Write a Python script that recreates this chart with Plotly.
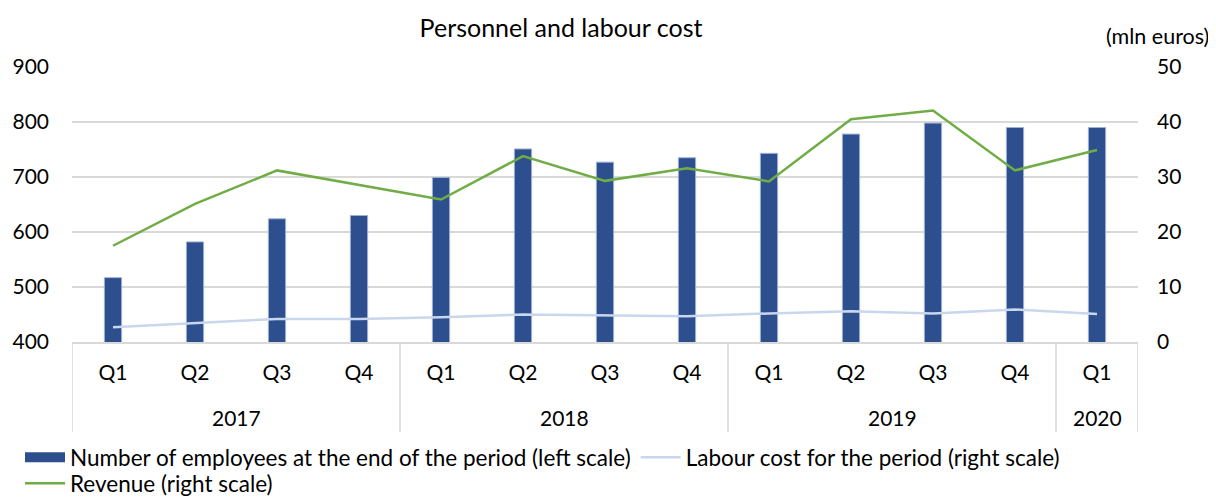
import plotly.graph_objects as go

years = ["2017"] * 4 + ["2018"] * 4 + ["2019"] * 4 + ["2020"]
quarters = ["Q1", "Q2", "Q3", "Q4"] * 3 + ["Q1"]
employees = [517, 582, 624, 630, 699, 751, 727, 735, 743, 778, 798, 790, 790]
labour_cost = [2.7, 3.4, 4.2, 4.2, 4.5, 5.0, 4.8, 4.7, 5.2, 5.6, 5.2, 5.9, 5.1]
revenue = [17.5, 25.1, 31.2, 28.5, 25.9, 33.8, 29.3, 31.6, 29.2, 40.5, 42.1, 31.2, 34.9]

left_ticks = [400, 500, 600, 700, 800, 900]
right_ticks = [0, 10, 20, 30, 40, 50]

FONT = "Lato"
BAR = "#2D4F8E"
GREEN = "#70AD47"
LIGHT = "#C9D7EE"
GRID = "#D9D9D9"

# page body has an 8px margin, so the figure is sized to fill the rest of the window
OFF = 8
W, H = 1216 - OFF, 498 - OFF
ML, MR, MT, MB = 72 - OFF, 78, 67 - OFF, 156
PH = H - MT - MB
PW = W - ML - MR
BOTTOM = MT + PH  # figure y of the plot bottom

def py(ref_y):
    """paper y for a screen y position"""
    return (BOTTOM - (ref_y - OFF)) / PH

def px(ref_x):
    return ((ref_x - OFF) - ML) / PW

idx = list(range(len(quarters)))

fig = go.Figure()
fig.add_trace(go.Bar(
    x=idx, y=employees, name="Number of employees at the end of the period (left scale)",
    marker=dict(color=BAR, line=dict(color="#9DB1D6", width=1)),
    width=0.21, showlegend=False, yaxis="y"))
# legend proxy for the bar series (wide rectangle look)
fig.add_trace(go.Scatter(
    x=[None], y=[None], mode="lines", name="Number of employees at the end of the period (left scale)",
    line=dict(color=BAR, width=16), yaxis="y", legend="legend"))
fig.add_trace(go.Scatter(
    x=idx, y=labour_cost, mode="lines", name="Labour cost for the period (right scale)",
    line=dict(color=LIGHT, width=2.5), yaxis="y2", legend="legend"))
fig.add_trace(go.Scatter(
    x=idx, y=revenue, mode="lines", name="Revenue (right scale)",
    line=dict(color=GREEN, width=2.5), yaxis="y2", legend="legend2"))

# year group labels and dividers, derived from the category data
groups = []
for i, y in enumerate(years):
    if not groups or groups[-1][0] != y:
        groups.append([y, i, i])
    else:
        groups[-1][2] = i

annotations = []
shapes = []
div_bottom = py(432)
year_y = py(417)
for name, a, b in groups:
    annotations.append(dict(text=name, x=(a + b) / 2, y=year_y, xref="x", yref="paper",
                            showarrow=False, yanchor="middle", font=dict(family=FONT, size=21)))
    shapes.append(dict(type="line", xref="x", yref="paper", x0=a - 0.5, x1=a - 0.5,
                       y0=0, y1=div_bottom, line=dict(color=GRID, width=1.5)))
shapes.append(dict(type="line", xref="x", yref="paper", x0=groups[-1][2] + 0.5, x1=groups[-1][2] + 0.5,
                   y0=0, y1=div_bottom, line=dict(color=GRID, width=1.5)))

annotations.append(dict(text="(mln euros)", xref="paper", yref="paper",
                        x=px(1211), y=py(36),
                        xanchor="right", yanchor="middle", showarrow=False,
                        font=dict(family=FONT, size=21.5)))

legend_common = dict(orientation="h", xanchor="left", yanchor="top",
                     font=dict(family=FONT, size=22.5), itemwidth=40,
                     tracegroupgap=0, traceorder="normal", bgcolor="rgba(0,0,0,0)")

fig.update_layout(
    width=W, height=H,
    margin=dict(l=ML, r=MR, t=MT, b=MB, autoexpand=False),
    paper_bgcolor="white", plot_bgcolor="white",
    font=dict(family=FONT, size=21, color="#000000"),
    title=dict(text="Personnel and labour cost", x=(561 - OFF) / W, xanchor="center",
               y=1 - (28 - OFF) / H, yanchor="middle", font=dict(family=FONT, size=25, color="#000000")),
    xaxis=dict(range=[-0.5, len(idx) - 0.5], tickvals=idx, ticktext=quarters,
               showgrid=False, showline=True, linecolor=GRID, linewidth=1.5, zeroline=False,
               ticks="", ticklabelstandoff=11, tickfont=dict(family=FONT, size=21, color="#000000")),
    yaxis=dict(range=[400, 900], tickvals=left_ticks, showgrid=True, gridcolor=GRID, gridwidth=1.5,
               zeroline=False, showline=False, ticks="", ticklabelstandoff=22,
               tickfont=dict(family=FONT, size=21)),
    yaxis2=dict(range=[0, 50], tickvals=right_ticks, overlaying="y", side="right", showgrid=False,
                zeroline=False, showline=False, ticks="", ticklabelstandoff=18,
                tickfont=dict(family=FONT, size=21)),
    legend=dict(x=px(20), y=py(436), **legend_common),
    legend2=dict(x=px(20), y=py(462), **legend_common),
    annotations=annotations,
    shapes=shapes,
)

fig.write_html("out.html")
